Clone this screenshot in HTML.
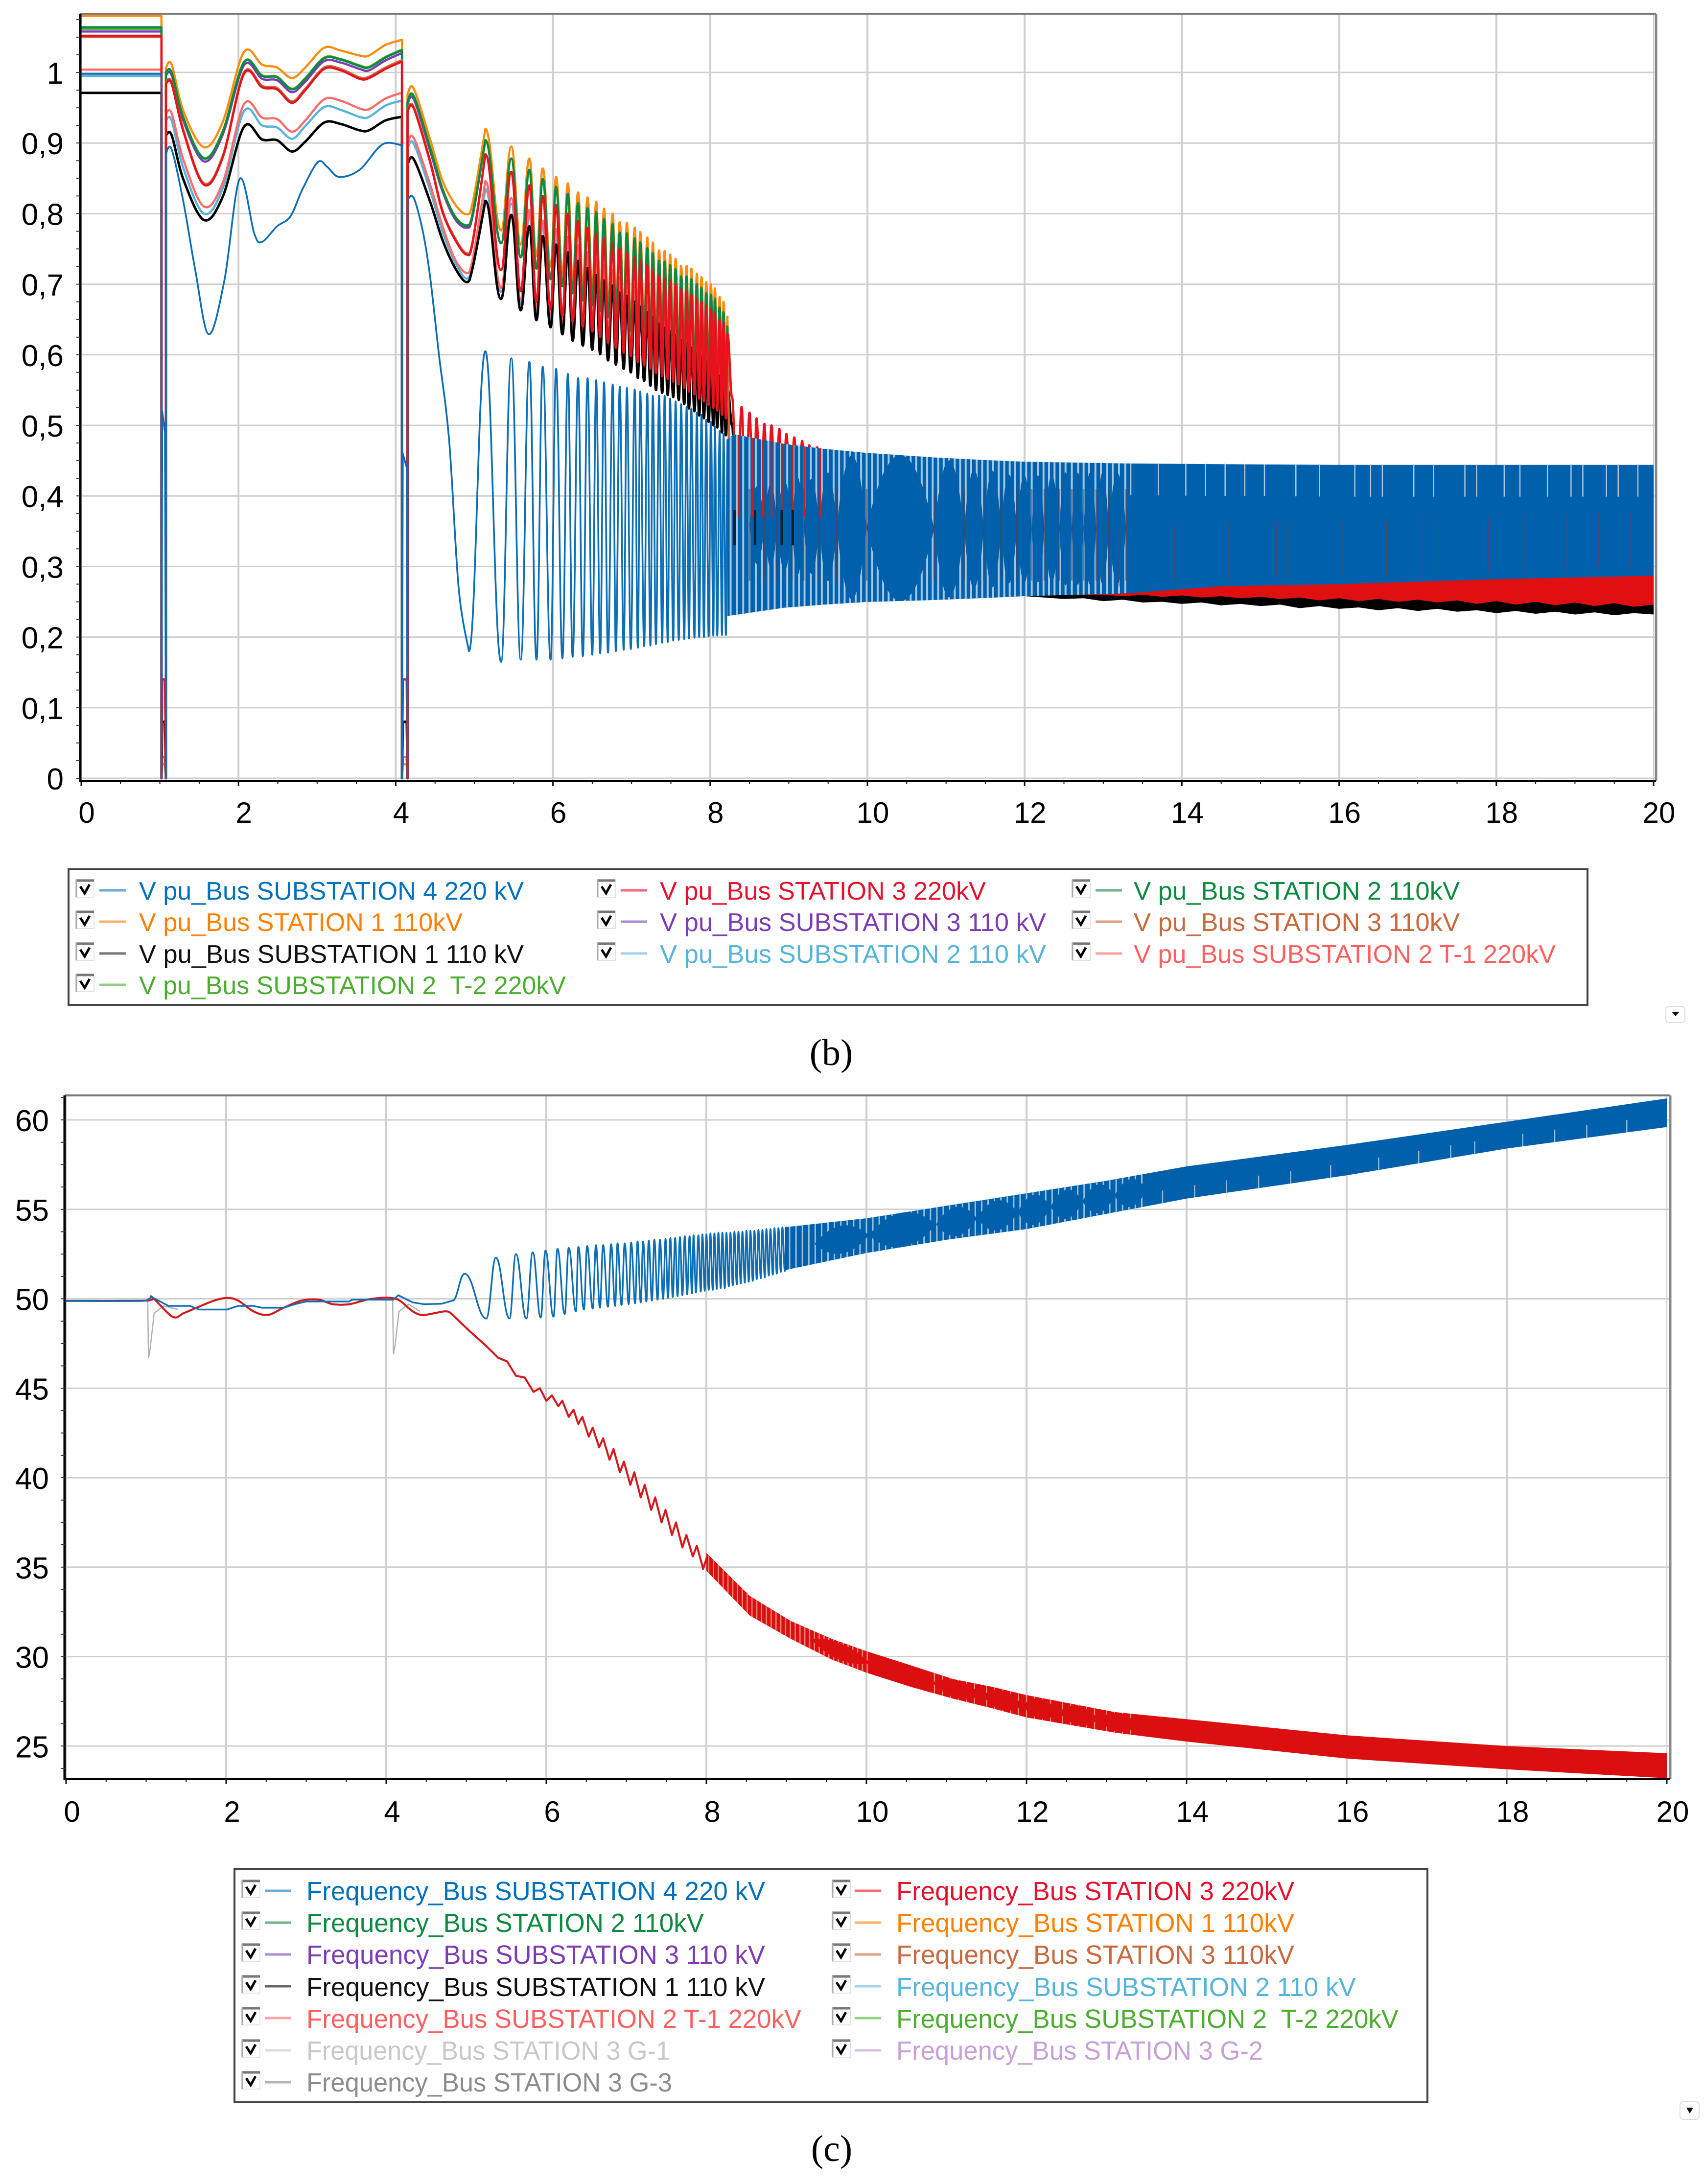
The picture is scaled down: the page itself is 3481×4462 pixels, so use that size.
<!DOCTYPE html>
<html lang="en">
<head>
<meta charset="utf-8">
<title>Voltage and frequency simulation charts</title>
<style>
html,body{margin:0;padding:0;background:#fff}
svg{display:block}
text{font-family:"Liberation Sans",sans-serif}
.cap{font-family:"Liberation Serif",serif;font-size:76px;fill:#000;text-anchor:middle}
.lgb{font-size:52px}
.lgc{font-size:54px}
</style>
</head>
<body>
<svg id="root" xmlns="http://www.w3.org/2000/svg" width="3481" height="4462" viewBox="0 0 3481 4462">
<defs>
<g id="cb">
<rect x="0" y="0" width="37" height="36" fill="#fff" stroke="#e2e2e2" stroke-width="2"/>
<path d="M0 2H37" stroke="#777" stroke-width="5"/>
<path d="M1 0V36" stroke="#aaa" stroke-width="3"/>
<path d="M9 14L18 28L28 10" fill="none" stroke="#000" stroke-width="5"/>
</g>
<clipPath id="clipB"><rect x="164" y="28" width="3219" height="1568"/></clipPath>
<clipPath id="clipC"><rect x="132" y="2238" width="3280" height="1397"/></clipPath>
</defs>
<rect width="3481" height="4462" fill="#fff"/>

<g id="chartB"></g>
<g id="chartC"></g>

<g>
<rect x="140" y="1776" width="3103" height="277" fill="#fff" stroke="#444" stroke-width="4"/>
<g><use href="#cb" x="155" y="1797"/><line x1="203" x2="257" y1="1819" y2="1819" stroke="#6aaad8" stroke-width="5"/><text class="lgb" x="284" y="1838" fill="#0072bd" textLength="786" lengthAdjust="spacingAndGlyphs">V pu_Bus SUBSTATION 4 220 kV</text></g>
<g><use href="#cb" x="155" y="1861"/><line x1="203" x2="257" y1="1883" y2="1883" stroke="#ffb066" stroke-width="5"/><text class="lgb" x="284" y="1902" fill="#ff8000" textLength="661" lengthAdjust="spacingAndGlyphs">V pu_Bus STATION 1 110kV</text></g>
<g><use href="#cb" x="155" y="1926"/><line x1="203" x2="257" y1="1948" y2="1948" stroke="#777" stroke-width="5"/><text class="lgb" x="284" y="1967" fill="#111" textLength="786" lengthAdjust="spacingAndGlyphs">V pu_Bus SUBSTATION 1 110 kV</text></g>
<g><use href="#cb" x="155" y="1990"/><line x1="203" x2="257" y1="2012" y2="2012" stroke="#8fcf80" stroke-width="5"/><text class="lgb" x="284" y="2031" fill="#4cae2f" textLength="872" lengthAdjust="spacingAndGlyphs" xml:space="preserve">V pu_Bus SUBSTATION 2  T-2 220kV</text></g>
<g><use href="#cb" x="1220" y="1797"/><line x1="1268" x2="1322" y1="1819" y2="1819" stroke="#f8697a" stroke-width="5"/><text class="lgb" x="1348" y="1838" fill="#e8112d" textLength="666" lengthAdjust="spacingAndGlyphs">V pu_Bus STATION 3 220kV</text></g>
<g><use href="#cb" x="1220" y="1861"/><line x1="1268" x2="1322" y1="1883" y2="1883" stroke="#b08ad0" stroke-width="5"/><text class="lgb" x="1348" y="1902" fill="#7d3cb5" textLength="789" lengthAdjust="spacingAndGlyphs">V pu_Bus SUBSTATION 3 110 kV</text></g>
<g><use href="#cb" x="1220" y="1926"/><line x1="1268" x2="1322" y1="1948" y2="1948" stroke="#a0d4ec" stroke-width="5"/><text class="lgb" x="1348" y="1967" fill="#54b4dc" textLength="789" lengthAdjust="spacingAndGlyphs">V pu_Bus SUBSTATION 2 110 kV</text></g>
<g><use href="#cb" x="2190" y="1797"/><line x1="2238" x2="2292" y1="1819" y2="1819" stroke="#6cb38a" stroke-width="5"/><text class="lgb" x="2316" y="1838" fill="#0c8a3f" textLength="666" lengthAdjust="spacingAndGlyphs">V pu_Bus STATION 2 110kV</text></g>
<g><use href="#cb" x="2190" y="1861"/><line x1="2238" x2="2292" y1="1883" y2="1883" stroke="#dca080" stroke-width="5"/><text class="lgb" x="2316" y="1902" fill="#c8683c" textLength="666" lengthAdjust="spacingAndGlyphs">V pu_Bus STATION 3 110kV</text></g>
<g><use href="#cb" x="2190" y="1926"/><line x1="2238" x2="2292" y1="1948" y2="1948" stroke="#ffa0a0" stroke-width="5"/><text class="lgb" x="2316" y="1967" fill="#ff5f5f" textLength="862" lengthAdjust="spacingAndGlyphs">V pu_Bus SUBSTATION 2 T-1 220kV</text></g>
</g>
<g><rect x="3403" y="2056" width="39" height="33" rx="7" fill="#fff" stroke="#ddd" stroke-width="2"/><path d="M3415 2067H3431L3423 2076Z" fill="#111"/></g>
<text class="cap" x="1698" y="2176">(b)</text>

<g>
<rect x="479" y="3818" width="2437" height="477" fill="#fff" stroke="#444" stroke-width="4"/>
<g><use href="#cb" x="494" y="3841"/><line x1="541" x2="594" y1="3863" y2="3863" stroke="#6aaad8" stroke-width="5"/><text class="lgc" x="626" y="3882" fill="#0072bd" textLength="937" lengthAdjust="spacingAndGlyphs">Frequency_Bus SUBSTATION 4 220 kV</text></g>
<g><use href="#cb" x="494" y="3906"/><line x1="541" x2="594" y1="3928" y2="3928" stroke="#6cb38a" stroke-width="5"/><text class="lgc" x="626" y="3947" fill="#0c8a3f" textLength="812" lengthAdjust="spacingAndGlyphs">Frequency_Bus STATION 2 110kV</text></g>
<g><use href="#cb" x="494" y="3971"/><line x1="541" x2="594" y1="3993" y2="3993" stroke="#b08ad0" stroke-width="5"/><text class="lgc" x="626" y="4012" fill="#7d3cb5" textLength="937" lengthAdjust="spacingAndGlyphs">Frequency_Bus SUBSTATION 3 110 kV</text></g>
<g><use href="#cb" x="494" y="4036"/><line x1="541" x2="594" y1="4058" y2="4058" stroke="#666" stroke-width="5"/><text class="lgc" x="626" y="4078" fill="#111" textLength="937" lengthAdjust="spacingAndGlyphs">Frequency_Bus SUBSTATION 1 110 kV</text></g>
<g><use href="#cb" x="494" y="4101"/><line x1="541" x2="594" y1="4123" y2="4123" stroke="#ffa0a0" stroke-width="5"/><text class="lgc" x="626" y="4143" fill="#ff5f5f" textLength="1011" lengthAdjust="spacingAndGlyphs">Frequency_Bus SUBSTATION 2 T-1 220kV</text></g>
<g><use href="#cb" x="494" y="4167"/><line x1="541" x2="594" y1="4189" y2="4189" stroke="#dcdcdc" stroke-width="5"/><text class="lgc" x="626" y="4208" fill="#c8c8c8" textLength="743" lengthAdjust="spacingAndGlyphs">Frequency_Bus STATION 3 G-1</text></g>
<g><use href="#cb" x="494" y="4232"/><line x1="541" x2="594" y1="4254" y2="4254" stroke="#b4b4b4" stroke-width="5"/><text class="lgc" x="626" y="4273" fill="#8c8c8c" textLength="747" lengthAdjust="spacingAndGlyphs">Frequency_Bus STATION 3 G-3</text></g>
<g><use href="#cb" x="1700" y="3841"/><line x1="1746" x2="1800" y1="3863" y2="3863" stroke="#f8697a" stroke-width="5"/><text class="lgc" x="1831" y="3882" fill="#e8112d" textLength="813" lengthAdjust="spacingAndGlyphs">Frequency_Bus STATION 3 220kV</text></g>
<g><use href="#cb" x="1700" y="3906"/><line x1="1746" x2="1800" y1="3928" y2="3928" stroke="#ffb066" stroke-width="5"/><text class="lgc" x="1831" y="3947" fill="#ff8000" textLength="813" lengthAdjust="spacingAndGlyphs">Frequency_Bus STATION 1 110kV</text></g>
<g><use href="#cb" x="1700" y="3971"/><line x1="1746" x2="1800" y1="3993" y2="3993" stroke="#dca080" stroke-width="5"/><text class="lgc" x="1831" y="4012" fill="#c8683c" textLength="813" lengthAdjust="spacingAndGlyphs">Frequency_Bus STATION 3 110kV</text></g>
<g><use href="#cb" x="1700" y="4036"/><line x1="1746" x2="1800" y1="4058" y2="4058" stroke="#a0d4ec" stroke-width="5"/><text class="lgc" x="1831" y="4078" fill="#54b4dc" textLength="939" lengthAdjust="spacingAndGlyphs">Frequency_Bus SUBSTATION 2 110 kV</text></g>
<g><use href="#cb" x="1700" y="4101"/><line x1="1746" x2="1800" y1="4123" y2="4123" stroke="#8fcf80" stroke-width="5"/><text class="lgc" x="1831" y="4143" fill="#4cae2f" textLength="1026" lengthAdjust="spacingAndGlyphs" xml:space="preserve">Frequency_Bus SUBSTATION 2  T-2 220kV</text></g>
<g><use href="#cb" x="1700" y="4167"/><line x1="1746" x2="1800" y1="4189" y2="4189" stroke="#d8bce4" stroke-width="5"/><text class="lgc" x="1831" y="4208" fill="#c8a0d8" textLength="749" lengthAdjust="spacingAndGlyphs">Frequency_Bus STATION 3 G-2</text></g>
</g>
<g><rect x="3432" y="4294" width="39" height="36" rx="7" fill="#fff" stroke="#ddd" stroke-width="2"/><path d="M3445 4306H3459L3452 4318Z" fill="#111"/></g>
<text class="cap" x="1699" y="4415">(c)</text>
</svg>

<script>
// ---------- axis ticks ----------
const xTickValues=[0,2,4,6,8,10,12,14,16,18,20];
const xMinorStep=[0.5];
const vTickValues=[0,0.1,0.2,0.3,0.4,0.5,0.6,0.7,0.8,0.9,1];
const vTickLabels=["0","0,1","0,2","0,3","0,4","0,5","0,6","0,7","0,8","0,9","1"];
const fTickValues=[25,30,35,40,45,50,55,60];
const fTickLabels=["25","30","35","40","45","50","55","60"];

// ---------- voltage chart: shared times ----------
const faultEdges=[1.02,1.03,1.065,1.077,4.08,4.09,4.14,4.15];
const tRide1=[1.08,1.15,1.3,1.56,1.8,2.07,2.3,2.49,2.68,2.85,3.09,3.3,3.54,3.66,3.87,4.07];
const tRide2=[4.16,4.23,4.44,4.59,4.75,4.9,4.98];
const tPeaks=[5.14,5.47,5.70,5.87,6.04,6.19,6.32,6.44,6.55,6.65,6.76,6.85,6.94,7.04,7.11,7.20,7.27,7.35,7.42,7.49,7.56,7.63,7.70,7.76,7.83,7.89,7.95,8.01,8.06,8.12,8.17,8.22];
const tTroughs=[5.34,5.59,5.79,5.97,6.12,6.25,6.38,6.50,6.60,6.70,6.80,6.90,6.99,7.08,7.16,7.24,7.31,7.39,7.46,7.53,7.60,7.67,7.73,7.80,7.86,7.92,7.98,8.04,8.09,8.15,8.20];
const tTail=[8.25,20];

// orange: STATION 1 110kV
const orangeRide1=[1.007,1.011,.945,.894,.93,1.029,1.011,1.007,.992,1.007,1.035,1.031,1.024,1.024,1.039,1.046];
const orangeRide2=[.969,.977,.904,.848,.814,.799,.816];
const orangePeaks=[.92,.895,.878,.864,.852,.843,.83,.823,.817,.807,.80,.788,.787,.78,.774,.766,.759,.748,.747,.742,.736,.726,.726,.722,.715,.71,.703,.70,.694,.682,.675,.654];
const orangeTroughs=[.776,.756,.74,.725,.715,.705,.695,.688,.68,.672,.665,.658,.652,.645,.64,.634,.628,.622,.618,.613,.608,.603,.598,.593,.588,.583,.578,.574,.57,.565,.56];
// green: STATION 2 110kV
const greenRide1=[1.0,1.0,.935,.878,.916,1.014,.995,.993,.976,.991,1.02,1.018,1.009,1.007,1.021,1.031];
const greenRide2=[.958,.966,.892,.836,.796,.783,.80];
const greenPeaks=[.904,.878,.862,.849,.838,.828,.815,.808,.802,.792,.785,.773,.772,.765,.759,.751,.744,.733,.732,.727,.721,.711,.711,.707,.70,.695,.688,.685,.679,.667,.66,.64];
const greenTroughs=[.758,.738,.722,.707,.697,.687,.677,.67,.662,.654,.647,.64,.634,.627,.622,.616,.61,.604,.6,.595,.59,.585,.58,.575,.57,.565,.56,.556,.552,.547,.542];
// purple: SUBSTATION 3 110 kV
const purpleRide1=[.996,.996,.931,.874,.912,1.01,.991,.989,.972,.987,1.016,1.014,1.005,1.003,1.017,1.027];
const purpleRide2=[.955,.962,.888,.833,.793,.78,.797];
// lime: SUBSTATION 2 T-2 220kV
const limeRide1=[1.0,1.0,.936,.879,.917,1.015,.996,.994,.977,.992,1.021,1.019,1.01,1.008,1.022,1.032];
const limeRide2=[.959,.967,.893,.837,.797,.784,.801];
// red: STATION 3 220kV
const redRide1=[.984,.984,.916,.841,.88,.998,.979,.976,.957,.975,1.005,1.003,.991,.992,1.005,1.015];
const redRide2=[.945,.949,.872,.804,.764,.742,.76];
const redPeaks=[.884,.859,.84,.825,.812,.80,.79,.78,.772,.765,.758,.75,.745,.738,.733,.727,.72,.712,.708,.705,.70,.693,.69,.685,.68,.675,.67,.665,.66,.65,.645,.63];
const redTroughs=[.72,.69,.675,.665,.655,.647,.64,.633,.625,.617,.61,.603,.598,.59,.585,.58,.574,.57,.566,.562,.558,.553,.548,.544,.538,.534,.529,.525,.521,.515,.51];
const redLateT=[8.28,8.34,8.40,8.45,8.5,8.55,8.59,8.64,8.69,8.73,8.78,8.83,8.88,8.92,8.97,9.02,9.07,9.12,9.17,9.21,9.26,9.31,9.36,9.4,9.45];
const redLateV=[.539,.36,.526,.37,.518,.37,.51,.36,.502,.36,.5,.37,.495,.37,.488,.37,.483,.37,.478,.38,.472,.38,.469,.38,.465];
// coral: STATION 3 110kV
const coralRide1=[.986,.986,.918,.843,.882,1.0,.981,.978,.959,.977,1.007,1.005,.993,.994,1.007,1.017];
const coralRide2=[.947,.951,.874,.806,.766,.744,.762];
// pink: SUBSTATION 2 T-1 220kV
const pinkRide1=[.942,.942,.876,.81,.844,.955,.936,.934,.916,.932,.962,.96,.949,.948,.963,.971];
const pinkRide2=[.90,.907,.84,.784,.736,.716,.736];
const pinkPeaks=[.846,.822,.805,.79,.778,.767,.755,.745,.735,.727,.72,.71,.705,.697,.69,.682,.675,.666,.66,.655,.65,.643,.638,.632,.625,.62,.613,.607,.60,.592,.585,.575];
const pinkTroughs=[.695,.678,.665,.655,.645,.636,.629,.623,.617,.608,.602,.596,.591,.583,.579,.572,.566,.562,.559,.556,.552,.546,.54,.536,.53,.526,.521,.516,.513,.506,.502];
// light blue: SUBSTATION 2 110 kV
const lightRide1=[.932,.932,.864,.80,.836,.945,.925,.922,.906,.924,.951,.947,.937,.937,.953,.96];
const lightRide2=[.893,.899,.832,.776,.732,.708,.73];
const lightPeaks=[.835,.814,.797,.782,.77,.759,.747,.737,.727,.719,.712,.702,.697,.689,.682,.674,.667,.658,.652,.647,.642,.635,.63,.624,.617,.612,.605,.599,.592,.584,.577,.567];
const lightTroughs=[.689,.672,.659,.649,.639,.63,.623,.617,.611,.602,.596,.59,.585,.577,.573,.566,.56,.556,.553,.55,.546,.54,.534,.53,.524,.52,.515,.51,.507,.5,.496];
// black: SUBSTATION 1 110 kV
const blackRide1=[.911,.911,.848,.791,.824,.923,.905,.904,.888,.902,.929,.927,.918,.918,.932,.937];
const blackRide2=[.87,.877,.816,.764,.724,.703,.724];
const blackPeaks=[.818,.798,.782,.768,.756,.745,.733,.723,.713,.705,.698,.688,.683,.675,.668,.66,.653,.644,.638,.633,.628,.621,.616,.61,.603,.598,.591,.585,.578,.57,.563,.553];
const blackTroughs=[.679,.663,.649,.639,.629,.62,.613,.607,.601,.592,.586,.58,.575,.567,.563,.556,.55,.546,.543,.54,.536,.53,.524,.52,.514,.51,.505,.50,.497,.49,.486];
const blackLateT=[8.28,8.33,8.42,8.52,8.62,8.70,8.8,8.95,9.1];
const blackLateV=[.5,.35,.47,.38,.47,.33,.46,.36,.45];

// blue: SUBSTATION 4 220 kV
const blueSteady=[.998];
const blueFault1=[.52,.49];
const blueFault2=[.46,.44];
const tBlueRide1=[1.08,1.15,1.3,1.45,1.62,1.82,2.015,2.2,2.3,2.49,2.66,2.82,3.01,3.13,3.28,3.54,3.83,4.07];
const blueRide1=[.885,.891,.816,.72,.629,.705,.849,.772,.76,.782,.796,.836,.873,.866,.852,.862,.898,.897];
const tBlueRide2=[4.16,4.23,4.35,4.44,4.55,4.68,4.8,4.93];
const blueRide2=[.82,.822,.772,.708,.60,.478,.27,.18];
const bluePeaks=[.605,.595,.59,.583,.58,.573,.567,.567,.564,.561,.558,.555,.553,.551,.548,.545,.542,.542,.542,.538,.534,.53,.526,.524,.518,.515,.508,.505,.498,.492,.488,.48];
const blueTroughs=[.165,.168,.168,.168,.17,.172,.173,.175,.177,.178,.18,.182,.183,.185,.187,.188,.19,.192,.193,.195,.196,.197,.198,.199,.20,.20,.201,.202,.202,.203,.203];

// saturated blue band: envelope, gaps between oscillation strokes, beat lobes
const vBandT=[8.22,8.3,8.94,9.45,9.99,10.85,11.5,12,13.3,14.5,16,18,20];
const blueBandHi=[.48,.4875,.4737,.4667,.461,.4545,.4508,.4485,.446,.445,.444,.444,.444];
const blueBandLo=[.23,.231,.2416,.246,.2497,.2525,.2554,.258,.262,.272,.275,.282,.287];
const vStripeT=[8.26,8.34,8.42,8.5,8.58,8.66,8.74,8.82,8.9,8.98,9.06,9.13,9.2,9.28,9.35,9.42,9.5,9.57,9.64,9.71,9.78,9.85,9.92,9.99,10.06,10.13,10.2,10.27,10.34,10.41,10.48,10.55,10.62,10.69,10.76,10.83,10.9,10.97,11.04,11.11,11.18,11.25,11.32,11.39,11.46,11.53,11.6,11.67,11.74,11.81,11.88,11.95,12.02,12.09,12.17,12.24,12.31,12.38,12.45,12.52,12.6,12.68,12.75,12.82,12.9,12.97,13.05,13.12,13.2,13.28];
const vBeatEdges=[8.5,8.69,8.85,9.04,9.19,9.386,9.61,9.99,10.85,11.23,11.48,11.70,11.9,12.09,12.25,12.44,12.6,12.75,12.91,13.07,13.29];
const vBeatSpan=[.45,.5,.55,.6,.6,.7,.95,1.0,.97,.85,.85,.8,.8,.8,.8,.85,.85,.85,.85,.85];
const vSlitT=[13.35,13.7,14.05,14.3,14.55,14.8,15.05,15.45,15.75,16.2,16.4,16.55,16.95,17.2,17.6,17.75,18.1,18.3,18.65,18.95,19.1,19.4,19.55,19.8];
const vDarkSlitT=[13.2,13.9,14.6,15.2,15.35,16.05,16.6,17.05,17.2,17.9,18.35,18.9,19.3,19.7];
const vRedStripeT=[8.36,8.54,8.67,8.78,8.91,9.05,9.2,9.4];
const vBlackStripeT=[8.31,8.57,8.91,9.05];
// low bands under the blue band
const lowBandT=[12,12.25,12.5,12.75,13,13.25,13.5,13.75,14,14.25,14.5,14.75,15,15.25,15.5,15.75,16,16.25,16.5,16.75,17,17.25,17.5,17.75,18,18.25,18.5,18.75,19,19.25,19.5,19.75,20];
const blackBandLo=[.258,.256,.254,.255,.251,.253,.249,.25,.247,.249,.245,.247,.244,.246,.241,.244,.24,.242,.238,.241,.237,.24,.236,.238,.234,.237,.233,.236,.232,.235,.231,.234,.232];
const redBandLo=[.259,.259,.26,.26,.26,.258,.26,.257,.259,.256,.258,.255,.257,.254,.256,.252,.255,.251,.254,.25,.253,.249,.252,.247,.251,.246,.25,.245,.249,.244,.248,.243,.246];
const lowBandTopT=[12,20];
const lowBandTop=[.3,.3];

// ---------- frequency chart ----------
const islandT=[0,1.0,1.07,1.33,1.47,1.63,1.85,2.01,2.15,2.34,2.52,2.72,2.94,3.16,3.33,3.54,3.82,4.12,4.33,4.47,4.74,4.83,5.04,5.24,5.4,5.51,5.62,5.73,5.84,5.92,6.0,6.07,6.15,6.2,6.28,6.34,6.40,6.45,6.53,6.58,6.66,6.71,6.79,6.84,6.92,6.97,7.05,7.10,7.18,7.23,7.31,7.36,7.44,7.49,7.57,7.62,7.70,7.75,7.83,7.88,7.96,8.01];
const islandV=[49.88,49.9,50.1,49.0,49.2,49.5,49.9,50.05,49.9,49.3,49.1,49.5,49.9,49.95,49.7,49.7,50.0,50.0,49.3,49.1,49.3,49.1,48.2,47.4,46.7,46.5,45.7,45.6,44.8,45.0,44.3,44.6,44.0,44.3,43.4,43.8,43.0,43.4,42.3,42.8,41.7,42.2,41.0,41.6,40.3,40.9,39.6,40.3,38.9,39.6,38.2,38.9,37.5,38.2,36.8,37.5,36.1,36.8,35.6,36.2,34.9,35.6];
const islandSmoothCount=[22];
const redBandT=[8.0,8.54,9.05,9.56,10,10.56,11.08,11.58,12,13.1,14,16,18,20];
const fRedHi=[35.8,33.4,32.0,31.0,30.3,29.5,28.75,28.3,27.85,26.9,26.5,25.6,25.0,24.6];
const fRedLo=[34.8,32.3,31.0,29.85,29.1,28.3,27.65,27.1,26.6,25.75,25.25,24.3,23.7,23.2];
const fRedStripeT=[8.03,8.09,8.15,8.21,8.27,8.33,8.39,8.45,8.51,8.57,8.63,8.69,8.75,8.81,8.87,8.93,8.99,9.05,9.11,9.17,9.23,9.29,9.35,9.41,9.47,9.53,9.59,9.65,9.71,9.77,9.83,9.89,9.95,10.01,10.85,10.95,11.05,11.15,11.25,11.35,11.5,11.6,11.7,11.8,11.9,12.0,12.1,12.2,12.3,12.45,12.55,12.65,12.75,12.85,13.0,13.1,13.2,13.3];
const fRedBeatEdges=[9.3,10.05,10.82,11.45,11.95,12.4,12.9,13.4];
const fRedBeatSpan=[.8,1,.9,.9,.9,.9,.9];
const fBlueT=[0,1.0,1.07,1.28,1.55,1.66,2.01,2.15,2.34,2.45,2.72,2.86,3.0,3.54,3.57,4.09,4.15,4.33,4.47,4.69,4.83];
const fBlueV=[49.88,49.9,50.1,49.6,49.6,49.4,49.4,49.6,49.6,49.5,49.5,49.7,49.85,49.85,49.95,49.95,50.2,49.8,49.7,49.72,49.9];
const fPeakT=[4.98,5.37,5.62,5.83,5.99,6.14,6.28,6.40,6.51,6.62,6.71,6.81,6.89,6.98,7.06,7.14,7.21,7.28,7.35,7.42,7.49,7.55,7.61,7.67,7.73,7.79,7.84,7.90,7.95,8.00,8.05,8.10,8.15,8.20,8.25,8.30,8.35,8.40,8.45,8.50,8.55,8.60,8.65,8.70,8.75,8.80,8.85,8.90,8.95,9.0];
const fPeakV=[51.4,52.3,52.5,52.6,52.7,52.8,52.85,52.9,52.95,53.0,53.0,53.05,53.1,53.1,53.15,53.2,53.2,53.25,53.3,53.3,53.35,53.4,53.4,53.45,53.5,53.5,53.55,53.55,53.6,53.6,53.65,53.65,53.7,53.7,53.7,53.7,53.75,53.75,53.75,53.8,53.8,53.8,53.85,53.85,53.9,53.9,53.95,53.95,54.0,54.0];
const fTroughT=[5.25,5.54,5.75,5.93,6.09,6.23,6.37,6.47,6.58,6.67,6.77,6.86,6.94,7.03,7.11,7.18,7.25,7.32,7.39,7.46,7.52,7.58,7.64,7.70,7.76,7.82,7.87,7.93,7.98,8.03,8.08,8.13,8.18,8.23,8.28,8.33,8.38,8.43,8.48,8.53,8.58,8.63,8.68,8.73,8.78,8.83,8.88,8.93,8.98];
const fTroughV=[48.9,48.9,48.9,48.95,49.0,49.15,49.3,49.4,49.45,49.5,49.55,49.6,49.65,49.7,49.75,49.8,49.85,49.9,49.95,50.0,50.05,50.1,50.15,50.2,50.25,50.3,50.35,50.4,50.45,50.5,50.5,50.55,50.6,50.6,50.7,50.75,50.8,50.85,50.9,50.95,51.0,51.1,51.15,51.2,51.3,51.35,51.4,51.5,51.55];
const fBandT=[8.98,10,11,12,13,14,16,18,20];
const fBlueHi=[54.0,54.5,55.2,55.9,56.6,57.4,58.6,59.9,61.2];
const fBlueLo=[51.6,52.56,53.3,53.9,54.75,55.6,56.9,58.4,59.6];
const fStripeT=[9.04,9.12,9.2,9.28,9.36,9.44,9.52,9.6,9.68,9.76,9.84,9.92,10.0,10.08,10.16,10.24,10.32,10.4,10.48,10.56,10.64,10.72,10.8,10.88,10.96,11.04,11.12,11.2,11.28,11.36,11.44,11.52,11.6,11.68,11.76,11.84,11.92,12.0,12.08,12.16,12.24,12.32,12.4,12.48,12.56,12.64,12.72,12.8,12.88,12.96,13.04,13.12,13.2,13.28,13.36,13.44];
const fBeatEdges=[9.35,10.03,10.87,11.38,11.89,12.3,12.7,13.1,13.5];
const fBeatSpan=[.75,1,.85,.85,.85,.85,.85,.85];
const fSlitT=[13.7,14.1,14.5,14.9,15.3,15.8,16.4,16.9,17.3,17.6,18.2,18.6,19.0,19.5];
const g1T=[1.0,1.02,1.03,1.05,1.1,1.22,1.4];
const g1V=[49.9,49.9,46.7,47.2,49.2,49.6,49.4];
const g2T=[4.06,4.08,4.09,4.11,4.16,4.28,4.42];
const g2V=[50.0,50.0,46.9,47.4,49.3,49.7,49.3];

// ---------- axis functions ----------
const xB=t=>166+160.6*t;
const yB=v=>1590-1442*v;
const xC=t=>135+163.5*t;
const yC=v=>2288+(60-v)*36.55;

const NS='http://www.w3.org/2000/svg';
function mk(parent,tag,attrs,txt){
  const el=document.createElementNS(NS,tag);
  for(const k in attrs)el.setAttribute(k,attrs[k]);
  if(txt!==undefined)el.textContent=txt;
  parent.appendChild(el);
  return el;
}
function zip(T,V){return T.map((t,i)=>[t,V[i]]);}
function weave(pT,pV,tT,tV){
  const out=[];
  pT.forEach((t,i)=>{out.push([t,pV[i]]);if(i<tT.length)out.push([tT[i],tV[i]]);});
  return out;
}
function lerp(T,V,t){
  for(let i=1;i<T.length;i++){if(t<=T[i]){const f=(t-T[i-1])/(T[i]-T[i-1]);return V[i-1]+f*(V[i]-V[i-1]);}}
  return V[V.length-1];
}
function pathBuilder(X,Y){
  let d='',last=null;
  const px=p=>[X(p[0]),Y(p[1])];
  const f=n=>n.toFixed(1);
  const api={
    line(pts){
      pts.forEach(p=>{const q=px(p);d+=(last?'L':'M')+f(q[0])+' '+f(q[1]);last=q;});
      return api;
    },
    spline(pts){
      if(!last){api.line([pts[0]]);pts=pts.slice(1);}
      const seq=[last].concat(pts.map(px));
      for(let i=0;i<seq.length-1;i++){
        const a=seq[i-1]||seq[i],b=seq[i],c=seq[i+1],e=seq[i+2]||c;
        d+='C'+f(b[0]+(c[0]-a[0])/6)+' '+f(b[1]+(c[1]-a[1])/6)+' '+f(c[0]-(e[0]-b[0])/6)+' '+f(c[1]-(e[1]-b[1])/6)+' '+f(c[0])+' '+f(c[1]);
      }
      last=seq[seq.length-1];
      return api;
    },
    wave(pts){
      if(!last){api.line([pts[0]]);pts=pts.slice(1);}
      pts.map(px).forEach(q=>{
        const dx=(q[0]-last[0])*.42;
        d+='C'+f(last[0]+dx)+' '+f(last[1])+' '+f(q[0]-dx)+' '+f(q[1])+' '+f(q[0])+' '+f(q[1]);
        last=q;
      });
      return api;
    },
    d(){return d;}
  };
  return api;
}
function bandPath(TH,Hi,TL,Lo,X,Y){
  return pathBuilder(X,Y).line(zip(TH,Hi).concat(zip(TL,Lo).reverse())).d()+'Z';
}
function lensPath(t0,t1,span,T,Hi,Lo,X,Y){
  const mid=(t0+t1)/2;
  const c=t=>(lerp(T,Hi,t)+lerp(T,Lo,t))/2;
  const y0=Y(c(t0)),y1=Y(c(t1)),ym=Y(c(mid)),xm=X(mid);
  const top=Y(c(mid)+span*(lerp(T,Hi,mid)-c(mid)));
  const bot=Y(c(mid)+span*(lerp(T,Lo,mid)-c(mid)));
  return 'M'+X(t0).toFixed(1)+' '+y0.toFixed(1)+
    'Q'+xm.toFixed(1)+' '+(2*top-ym).toFixed(1)+' '+X(t1).toFixed(1)+' '+y1.toFixed(1)+
    'Q'+xm.toFixed(1)+' '+(2*bot-ym).toFixed(1)+' '+X(t0).toFixed(1)+' '+y0.toFixed(1)+'Z';
}
function buildAxes(g,cfg){
  const {X,Y,left,right,top,bottom,xVals,yVals,yLabels,yMinor,labelRight,xBase,xShift}=cfg;
  xVals.forEach(t=>{
    const gl=mk(g,'line',{x1:X(t),x2:X(t),y1:top,y2:bottom,stroke:'#cfcfcf','stroke-width':t===20?2:4});
    
    
  });
  yVals.forEach(v=>{
    const gl=mk(g,'line',{x1:left,x2:right,y1:Y(v),y2:Y(v),stroke:'#cfcfcf','stroke-width':3});
    
    
  });
  cfg.after=()=>{
    const axT=mk(g,'line',{x1:left,x2:right,y1:top,y2:top,stroke:'#777','stroke-width':4});
    
    
    const axR=mk(g,'line',{x1:right,x2:right,y1:top,y2:bottom,stroke:'#888','stroke-width':5});
    
    
    const axL=mk(g,'line',{x1:left,x2:left,y1:top,y2:bottom+2,stroke:'#000','stroke-width':5});
    
    
    const axB=mk(g,'line',{x1:left,x2:right,y1:bottom,y2:bottom,stroke:'#000','stroke-width':4});
    
    
    for(let t=0;t<=20.001;t+=xMinorStep[0]){
      const major=Math.abs(t/2-Math.round(t/2))<1e-6;
      const tk=mk(g,'line',{x1:X(t),x2:X(t),y1:bottom,y2:bottom+(major?10:6),stroke:'#111','stroke-width':major?3:2});
      
      
    }
    let v=yMinor.start;
    while(Y(v)>top){
      const tk=mk(g,'line',{x1:left-8,x2:left,y1:Y(v),y2:Y(v),stroke:'#333','stroke-width':2});
      
      
      v+=yMinor.step;
    }
    xVals.forEach(t=>{
      const lb=mk(g,'text',{x:X(t)+xShift,y:xBase,'text-anchor':'middle','font-size':60,fill:'#000'},String(t));
      
      
    });
    yVals.forEach((val,i)=>{
      const lb=mk(g,'text',{x:labelRight,y:Y(val)+23,'text-anchor':'end','font-size':62,fill:'#000'},yLabels[i]);
      
      
    });
  };
}
function drawStripes(parent,times,T,Hi,Lo,X,Y,color,width,opacity){
  times.forEach(t=>{
    const s=mk(parent,'line',{x1:X(t),x2:X(t),y1:Y(lerp(T,Hi,t)),y2:Y(lerp(T,Lo,t)),stroke:color,'stroke-width':width,opacity:opacity});
    
    
  });
}
function drawLenses(parent,edges,spans,T,Hi,Lo,X,Y,fill){
  spans.forEach((sp,i)=>{
    const l=mk(parent,'path',{d:lensPath(edges[i],edges[i+1],sp,T,Hi,Lo,X,Y),fill:fill});
    
    
  });
}

// ---------- voltage chart drawing ----------
const gB=document.getElementById('chartB');
const cfgB={X:xB,Y:yB,left:164,right:3383,top:28,bottom:1596,xVals:xTickValues,yVals:vTickValues,yLabels:vTickLabels,yMinor:{start:0,step:0.025},labelRight:130,xBase:1681,xShift:11};
buildAxes(gB,cfgB);
const plotB=mk(gB,'g',{'clip-path':'url(#clipB)'});



function busPath(steady,f1,f2,ride1,ride2,peaks,troughs,tailFn){
  const e=faultEdges;
  const b=pathBuilder(xB,yB);
  b.line([[0,steady],[e[0],steady],[e[0],0],[e[1],f1],[e[2],f1],[e[3],0],[e[3],ride1[0]]]);
  b.spline(zip(tRide1,ride1).slice(1));
  b.line([[e[4],ride1[ride1.length-1]],[e[4],0],[e[5],f2],[e[6],f2],[e[7],0],[e[7],ride2[0]]]);
  b.spline(zip(tRide2,ride2).slice(1).concat([[tPeaks[0],peaks[0]]]));
  b.wave(weave(tPeaks,peaks,tTroughs,troughs).slice(1));
  tailFn(b);
  return b.d();
}
const tailValues=[.40,.35];
const tailDefault=b=>b.line(zip(tTail,tailValues));
const busNames=['station-1-110','substation-3-110','substation-2-t2-220','station-2-110','substation-2-110','substation-2-t1-220','substation-1-110','station-3-110'];
const busColors=['#ff8c10','#7d3cb5','#4cae2f','#0c8a3f','#54b4dc','#ff6a6a','#000','#c8683c'];
const busSteady=[1.08,1.058,1.062,1.064,.995,1.004,.971,1.05];
const busFault1=[.02,.03,.03,.03,.03,.03,.08,.14];
const busFault2=[.02,.03,.03,.03,.03,.03,.08,.14];
const busRide1=[orangeRide1,purpleRide1,limeRide1,greenRide1,lightRide1,pinkRide1,blackRide1,coralRide1];
const busRide2=[orangeRide2,purpleRide2,limeRide2,greenRide2,lightRide2,pinkRide2,blackRide2,coralRide2];
const busPeaks=[orangePeaks,greenPeaks,greenPeaks,greenPeaks,lightPeaks,pinkPeaks,blackPeaks,redPeaks];
const busTroughs=[orangeTroughs,greenTroughs,greenTroughs,greenTroughs,lightTroughs,pinkTroughs,blackTroughs,redTroughs];

const blackBand=mk(plotB,'path',{d:bandPath(lowBandTopT,lowBandTop,lowBandT,blackBandLo,xB,yB),fill:'#000'});


const redBand=mk(plotB,'path',{d:bandPath(lowBandTopT,lowBandTop,lowBandT,redBandLo,xB,yB),fill:'#e01010'});



busNames.forEach((nm,i)=>{
  const tail=nm==='substation-1-110'?(b=>b.wave(zip(blackLateT,blackLateV))):tailDefault;
  const p=mk(plotB,'path',{d:busPath(busSteady[i],busFault1[i],busFault2[i],busRide1[i],busRide2[i],busPeaks[i],busTroughs[i],tail),fill:'none',stroke:busColors[i],'stroke-width':nm==='substation-1-110'?5:4.5,'stroke-linejoin':'round'});
  
  
  p.setAttribute('data-series',nm);
});
const redLine=mk(plotB,'path',{d:busPath(1.052,.14,.14,redRide1,redRide2,redPeaks,redTroughs,b=>b.wave(zip(redLateT,redLateV))),fill:'none',stroke:'#e8121c','stroke-width':4.6,'stroke-linejoin':'round'});



(function(){
  const e=faultEdges;
  const b=pathBuilder(xB,yB);
  b.line([[0,blueSteady[0]],[e[0],blueSteady[0]],[e[0],0],[e[1],blueFault1[0]],[e[2],blueFault1[1]],[e[3],0],[e[3],blueRide1[0]]]);
  b.spline(zip(tBlueRide1,blueRide1).slice(1));
  b.line([[e[4],blueRide1[blueRide1.length-1]],[e[4],0],[e[5],blueFault2[0]],[e[6],blueFault2[1]],[e[7],0],[e[7],blueRide2[0]]]);
  b.spline(zip(tBlueRide2,blueRide2).slice(1));
  b.wave(weave(tPeaks,bluePeaks,tTroughs,blueTroughs));
  const l=mk(plotB,'path',{d:b.d(),fill:'none',stroke:'#0b6eb6','stroke-width':3.6,'stroke-linejoin':'round'});
  
  
})();
const blueBandV=mk(plotB,'path',{d:bandPath(vBandT,blueBandHi,vBandT,blueBandLo,xB,yB),fill:'#0060ac'});


drawStripes(plotB,vStripeT,vBandT,blueBandHi,blueBandLo,xB,yB,'#a9cde8',4,.95);
drawLenses(plotB,vBeatEdges,vBeatSpan,vBandT,blueBandHi,blueBandLo,xB,yB,'#0060ac');
vBeatEdges.forEach(t=>{
  const s=mk(plotB,'line',{x1:xB(t),x2:xB(t),y1:yB(.41),y2:yB(.28),stroke:'#5a3c4c','stroke-width':3,opacity:.6});
  
  
});
vRedStripeT.forEach(t=>{
  const s=mk(plotB,'line',{x1:xB(t),x2:xB(t),y1:yB(lerp(vBandT,blueBandHi,t)),y2:yB(.37),stroke:'#c8201c','stroke-width':3.5});
  
  
});
vBlackStripeT.forEach(t=>{
  const s=mk(plotB,'line',{x1:xB(t),x2:xB(t),y1:yB(.38),y2:yB(.33),stroke:'#04203a','stroke-width':5});
  
  
});
vSlitT.forEach(t=>{
  const hi=lerp(vBandT,blueBandHi,t);
  const s=mk(plotB,'line',{x1:xB(t),x2:xB(t),y1:yB(hi)-2,y2:yB(hi-.045),stroke:'#cfe2f2','stroke-width':2.5,opacity:.8});
  
  
});
vDarkSlitT.forEach(t=>{
  const lo=lerp(vBandT,blueBandLo,t);
  const s=mk(plotB,'line',{x1:xB(t),x2:xB(t),y1:yB(lo+.01),y2:yB(lo+.09),stroke:'#7a3a50','stroke-width':2.5,opacity:.55});
  
  
});
cfgB.after();

// ---------- frequency chart drawing ----------
const gC=document.getElementById('chartC');
const cfgC={X:xC,Y:yC,left:132,right:3412,top:2238,bottom:3635,xVals:xTickValues,yVals:fTickValues,yLabels:fTickLabels,yMinor:{start:23.75,step:1.25},labelRight:100,xBase:3722,xShift:12};
buildAxes(gC,cfgC);
const plotC=mk(gC,'g',{'clip-path':'url(#clipC)'});



const g1Line=mk(plotC,'path',{d:pathBuilder(xC,yC).line(zip(g1T,g1V)).d(),fill:'none',stroke:'#b0b0b0','stroke-width':2.5});


const g2Line=mk(plotC,'path',{d:pathBuilder(xC,yC).line(zip(g2T,g2V)).d(),fill:'none',stroke:'#b0b0b0','stroke-width':2.5});



function islandPath(){
  const all=zip(islandT,islandV);
  const n=islandSmoothCount[0];
  return pathBuilder(xC,yC).spline(all.slice(0,n)).line(all.slice(n)).d();
}
const islandNames=['station-2-110','substation-3-110','substation-1-110','substation-2-t1-220','station-1-110','station-3-110','substation-2-110','substation-2-t2-220','station-3-g1','station-3-g2','station-3-g3'];
const islandColors=['#0c8a3f','#7d3cb5','#000','#ff6a6a','#ff8c10','#c8683c','#54b4dc','#4cae2f','#c8c8c8','#c8a0d8','#8c8c8c'];
islandNames.forEach((nm,i)=>{
  const p=mk(plotC,'path',{d:islandPath(),fill:'none',stroke:islandColors[i],'stroke-width':4,'stroke-linejoin':'round'});
  
  
  p.setAttribute('data-series',nm);
});
const fRedLine=mk(plotC,'path',{d:islandPath(),fill:'none',stroke:'#e01216','stroke-width':3.6,'stroke-linejoin':'round'});


const fRedBand=mk(plotC,'path',{d:bandPath(redBandT,fRedHi,redBandT,fRedLo,xC,yC),fill:'#dc0f10'});


drawStripes(plotC,fRedStripeT,redBandT,fRedHi,fRedLo,xC,yC,'#f0a090',2.5,.85);
drawLenses(plotC,fRedBeatEdges,fRedBeatSpan,redBandT,fRedHi,fRedLo,xC,yC,'#dc0f10');

const fBlueLine=mk(plotC,'path',{d:pathBuilder(xC,yC).line(zip(fBlueT,fBlueV)).wave(weave(fPeakT,fPeakV,fTroughT,fTroughV)).d(),fill:'none',stroke:'#0b6eb6','stroke-width':3.4,'stroke-linejoin':'round'});


const fBlueBand=mk(plotC,'path',{d:bandPath(fBandT,fBlueHi,fBandT,fBlueLo,xC,yC),fill:'#0060ac'});


drawStripes(plotC,fStripeT,fBandT,fBlueHi,fBlueLo,xC,yC,'#a9cde8',3,.9);
drawLenses(plotC,fBeatEdges,fBeatSpan,fBandT,fBlueHi,fBlueLo,xC,yC,'#0060ac');
fSlitT.forEach(t=>{
  const lo=lerp(fBandT,fBlueLo,t);
  const s=mk(plotC,'line',{x1:xC(t),x2:xC(t),y1:yC(lo)+1,y2:yC(lo+.7),stroke:'#cfe2f2','stroke-width':2.5,opacity:.7});
  
  
});
cfgC.after();
</script>
</body>
</html>
